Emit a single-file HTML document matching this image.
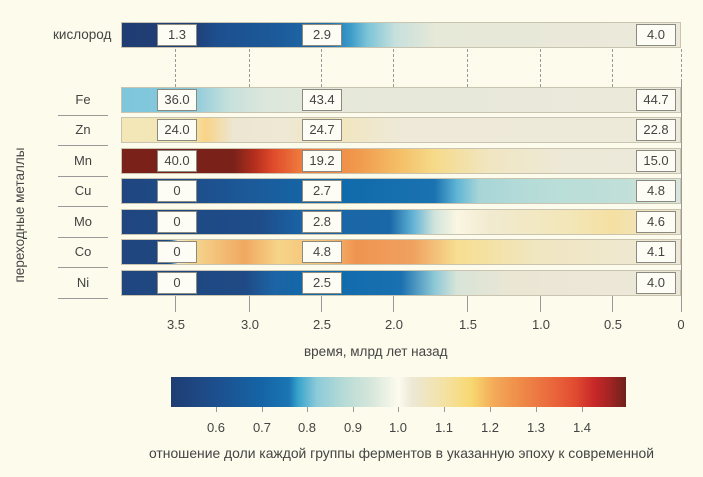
<!DOCTYPE html><html><head><meta charset="utf-8"><style>
body{margin:0;width:703px;height:477px;background:#fdfbec;font-family:"Liberation Sans","DejaVu Sans",sans-serif;color:#444;position:relative;overflow:hidden}
.a{position:absolute}
.bar{position:absolute;left:121px;width:560px;height:26px;box-sizing:border-box;border:1px solid #c8c4b0}
.box{position:absolute;width:40px;height:22px;background:#fefdf5;border:1px solid #8a8a80;box-sizing:border-box;font-size:13px;text-align:center;line-height:20px;color:#444}
.lab{position:absolute;width:70px;left:48px;text-align:center;font-size:13px}
.sep{position:absolute;left:58px;width:50px;height:1px;background:#999}
.tk{position:absolute;width:1px;background:#999}
.tl{position:absolute;width:40px;margin-left:-20px;text-align:center;font-size:13px}
.dash{position:absolute;top:49px;height:38px;border-left:1px dashed #999}
</style></head><body>
<div class="a" style="top:27px;left:53px;font-size:13.5px">кислород</div>
<div class="bar" style="top:22px;background:linear-gradient(90deg,#1f3d73 0%,#213f78 13%,#1d4f8e 17%,#1c5a9a 28%,#1f6fae 37%,#3d9cc9 41%,#7cc4d8 44%,#c6e0dc 49%,#e6e8d8 56%,#ece9da 100%)"></div>
<div class="dash" style="left:175px"></div><div class="dash" style="left:249px"></div><div class="dash" style="left:321px"></div><div class="dash" style="left:393px"></div><div class="dash" style="left:467px"></div><div class="dash" style="left:540px"></div><div class="dash" style="left:612px"></div><div class="dash" style="left:681px"></div>
<div class="bar" style="top:87px;background:linear-gradient(90deg,#7ec6dc 0%,#86c8db 12%,#c5e0dc 19%,#dde7dc 26%,#e6e8da 40%,#ece9da 100%)"></div>
<div class="bar" style="top:117px;background:linear-gradient(90deg,#f3e7b8 0%,#f3e6b4 12%,#f8d488 15%,#ece6d2 20%,#eee8d4 30%,#f3e5b8 36%,#eee9d8 50%,#eeeadb 100%)"></div>
<div class="bar" style="top:148px;background:linear-gradient(90deg,#7a2219 0%,#7a2219 20%,#b8301e 24%,#df4a2a 27%,#ee7a3e 32%,#f0984c 42%,#f4c068 50%,#f6da8a 56%,#f0e6c2 66%,#ede9d9 80%,#ede9da 100%)"></div>
<div class="bar" style="top:178px;background:linear-gradient(90deg,#1f467f 0%,#1e4d8a 12%,#1b5c9c 25%,#0f6aab 38%,#1a72b0 56%,#5fb5d4 60%,#a8d5d8 64%,#b8ddd8 75%,#c0dfd8 90%,#d8e6dc 100%)"></div>
<div class="bar" style="top:209px;background:linear-gradient(90deg,#1f467f 0%,#1e4d8a 25%,#1a63a5 32%,#1a68a8 48%,#5fb0d4 52%,#d0e4dc 56%,#fbf6e2 60%,#f1ead0 66%,#f3e6b8 80%,#f5e0a2 88%,#eee9d5 100%)"></div>
<div class="bar" style="top:239px;background:linear-gradient(90deg,#1f467f 0%,#1f467f 8%,#1766a8 8.8%,#f0ead0 10%,#f6da92 12%,#f0a860 22%,#f6d488 28%,#f5c078 36%,#ef9450 42%,#f0a060 52%,#f7de90 60%,#f0e6c0 74%,#eee9d8 100%)"></div>
<div class="bar" style="top:270px;background:linear-gradient(90deg,#1f467f 0%,#1f4a85 22%,#1d63a4 27%,#0d6aab 35%,#1a70b0 50%,#8cc8d6 56%,#d8e4d8 60%,#ebe6d4 70%,#ece8d8 100%)"></div>
<div class="lab" style="top:92px">Fe</div><div class="lab" style="top:122px">Zn</div><div class="lab" style="top:153px">Mn</div><div class="lab" style="top:183px">Cu</div><div class="lab" style="top:214px">Mo</div><div class="lab" style="top:244px">Co</div><div class="lab" style="top:275px">Ni</div>
<div class="sep" style="top:115px"></div><div class="sep" style="top:145px"></div><div class="sep" style="top:176px"></div><div class="sep" style="top:206px"></div><div class="sep" style="top:237px"></div><div class="sep" style="top:267px"></div><div class="sep" style="top:298px"></div>
<div class="a" style="left:12px;top:305px;transform:rotate(-90deg);transform-origin:0 0;font-size:13.5px;white-space:nowrap;width:180px;text-align:center">переходные металлы</div>
<div class="box" style="left:157px;top:24px">1.3</div><div class="box" style="left:302px;top:24px">2.9</div><div class="box" style="left:636px;top:24px">4.0</div>
<div class="box" style="left:157px;top:89px">36.0</div><div class="box" style="left:302px;top:89px">43.4</div><div class="box" style="left:636px;top:89px">44.7</div>
<div class="box" style="left:157px;top:119px">24.0</div><div class="box" style="left:302px;top:119px">24.7</div><div class="box" style="left:636px;top:119px">22.8</div>
<div class="box" style="left:157px;top:150px">40.0</div><div class="box" style="left:302px;top:150px">19.2</div><div class="box" style="left:636px;top:150px">15.0</div>
<div class="box" style="left:157px;top:180px">0</div><div class="box" style="left:302px;top:180px">2.7</div><div class="box" style="left:636px;top:180px">4.8</div>
<div class="box" style="left:157px;top:211px">0</div><div class="box" style="left:302px;top:211px">2.8</div><div class="box" style="left:636px;top:211px">4.6</div>
<div class="box" style="left:157px;top:241px">0</div><div class="box" style="left:302px;top:241px">4.8</div><div class="box" style="left:636px;top:241px">4.1</div>
<div class="box" style="left:157px;top:272px">0</div><div class="box" style="left:302px;top:272px">2.5</div><div class="box" style="left:636px;top:272px">4.0</div>
<div class="tk" style="left:175px;top:296px;height:16px"></div><div class="tk" style="left:249px;top:296px;height:16px"></div><div class="tk" style="left:321px;top:296px;height:16px"></div><div class="tk" style="left:393px;top:296px;height:16px"></div><div class="tk" style="left:467px;top:296px;height:16px"></div><div class="tk" style="left:540px;top:296px;height:16px"></div><div class="tk" style="left:612px;top:296px;height:16px"></div><div class="tk" style="left:681px;top:80px;height:232px"></div>
<div class="tl" style="left:176px;top:317px">3.5</div><div class="tl" style="left:250px;top:317px">3.0</div><div class="tl" style="left:322px;top:317px">2.5</div><div class="tl" style="left:394px;top:317px">2.0</div><div class="tl" style="left:468px;top:317px">1.5</div><div class="tl" style="left:541px;top:317px">1.0</div><div class="tl" style="left:613px;top:317px">0.5</div><div class="tl" style="left:681px;top:317px">0</div>
<div class="a" style="left:304px;top:344px;font-size:13.5px">время, млрд лет назад</div>
<div class="a" style="left:171px;top:377px;width:455px;height:30px;background:linear-gradient(90deg,#1f3d73 0%,#1d4f8e 10%,#1565a6 20%,#1b76b4 26%,#3aa4cc 28%,#8ccad8 32%,#b6dbd6 38%,#d6e6da 44%,#fdfbee 50%,#ece8d6 53%,#f4e2a4 60%,#f7d870 66%,#f3aa58 71%,#ef8a48 77%,#e9613a 85%,#e04a30 89%,#c82828 93%,#a82424 96%,#6e211a 100%)"></div>
<div class="tk" style="left:216px;top:407px;height:5px"></div><div class="tk" style="left:262px;top:407px;height:5px"></div><div class="tk" style="left:307px;top:407px;height:5px"></div><div class="tk" style="left:353px;top:407px;height:5px"></div><div class="tk" style="left:398px;top:407px;height:5px"></div><div class="tk" style="left:444px;top:407px;height:5px"></div><div class="tk" style="left:490px;top:407px;height:5px"></div><div class="tk" style="left:536px;top:407px;height:5px"></div><div class="tk" style="left:582px;top:407px;height:5px"></div>
<div class="tl" style="left:216px;top:420px">0.6</div><div class="tl" style="left:262px;top:420px">0.7</div><div class="tl" style="left:307px;top:420px">0.8</div><div class="tl" style="left:353px;top:420px">0.9</div><div class="tl" style="left:398px;top:420px">1.0</div><div class="tl" style="left:444px;top:420px">1.1</div><div class="tl" style="left:490px;top:420px">1.2</div><div class="tl" style="left:536px;top:420px">1.3</div><div class="tl" style="left:582px;top:420px">1.4</div>
<div class="a" style="left:149px;top:445px;font-size:13.9px;white-space:nowrap">отношение доли каждой группы ферментов в указанную эпоху к современной</div>
</body></html>
